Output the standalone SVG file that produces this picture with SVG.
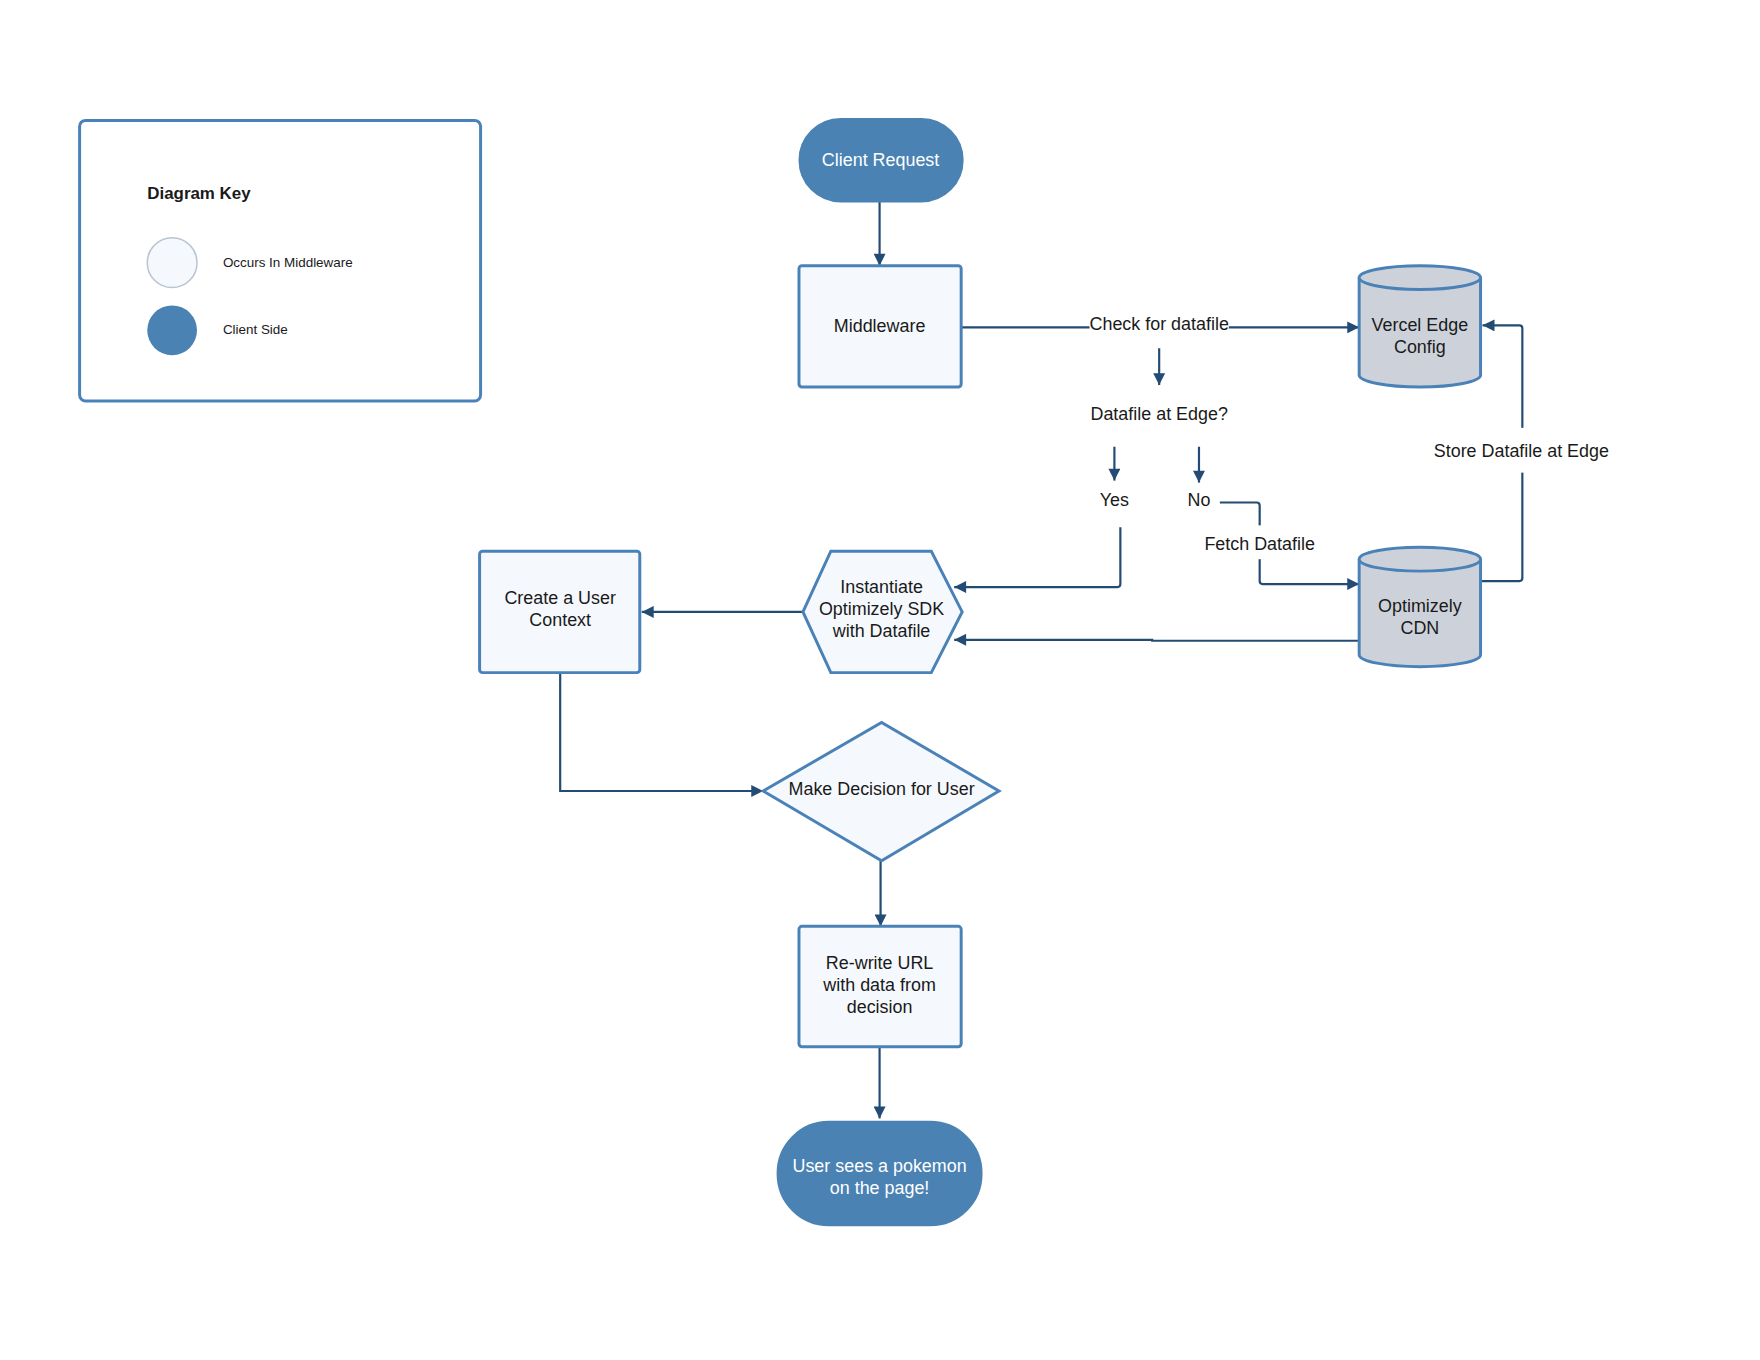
<svg xmlns="http://www.w3.org/2000/svg" width="1760" height="1360" viewBox="0 0 1760 1360">
<style>
text{font-family:"Liberation Sans",Arial,sans-serif;font-size:18px;fill:#1a1a1a;text-anchor:middle}
.n{fill:#f5f9fd;stroke:#4a82b8;stroke-width:3}
.d{fill:#4a82b4;stroke:#4a82b4;stroke-width:3}
.c{fill:#cdd2da;stroke:#4a82b8;stroke-width:3}
.w{fill:#ffffff}
.e{fill:none;stroke:#234b74;stroke-width:2.2}
.lb{fill:#fff}
</style>
<defs>
<marker id="b" viewBox="0 0 10 10" refX="10" refY="5" markerWidth="16" markerHeight="12" markerUnits="userSpaceOnUse" orient="auto"><path d="M0,0L10,5L0,10z" fill="#234b74"/></marker>
</defs>
<rect width="1760" height="1360" fill="#fff"/>
<g transform="scale(0.995)">
<g id="legend">
<rect x="80" y="121" width="403" height="282" rx="6" fill="#fff" stroke="#4a82b8" stroke-width="3"/>
<text x="148" y="200" style="text-anchor:start;font-weight:bold;font-size:17px">Diagram Key</text>
<circle cx="173" cy="264" r="25" fill="#f5f9fd" stroke="#b8c4d0" stroke-width="1.5"/>
<text x="224" y="268" style="text-anchor:start;font-size:13.5px">Occurs In Middleware</text>
<circle cx="173" cy="332" r="25" fill="#4a82b4"/>
<text x="224" y="336" style="text-anchor:start;font-size:13.5px">Client Side</text>
</g>
<g id="connectors">
<path class="e" marker-end="url(#b)" d="M884,202V267"/>
<path class="e" marker-end="url(#b)" d="M966,329H1366"/>
<path class="e" marker-end="url(#b)" d="M1165,350V387"/>
<path class="e" marker-end="url(#b)" d="M1120,449V483"/>
<path class="e" marker-end="url(#b)" d="M1205,449V485"/>
<path class="e" marker-end="url(#b)" d="M1126,530V587q0,3 -3,3H959"/>
<path class="e" marker-end="url(#b)" d="M1226,505H1263q3,0 3,3V584q0,3 3,3H1366"/>
<path class="e" marker-end="url(#b)" d="M1366,644H1158V643H959"/>
<path class="e" marker-end="url(#b)" d="M1488,584H1527q3,0 3,-3V330q0,-3 -3,-3H1490"/>
<path class="e" marker-end="url(#b)" d="M807,615H645"/>
<path class="e" marker-end="url(#b)" d="M563,676V795H767"/>
<path class="e" marker-end="url(#b)" d="M885,865V931"/>
<path class="e" marker-end="url(#b)" d="M884,1052V1124"/>
<rect class="lb" x="1095" y="312" width="140" height="22"/>
<text x="1165" y="332">Check for datafile</text>
<rect class="lb" x="1438" y="430" width="184" height="45"/>
<text x="1529" y="459">Store Datafile at Edge</text>
<rect class="lb" x="1206" y="528" width="120" height="34"/>
<text x="1266" y="553">Fetch Datafile</text>
</g>
<g id="datafile-q"><text x="1165" y="422">Datafile at Edge?</text></g>
<g id="yes"><text x="1120" y="509">Yes</text></g>
<g id="no"><text x="1205" y="509">No</text></g>
<g id="client-request">
<rect class="d" x="804" y="120" width="163" height="82" rx="41"/>
<text class="w" x="885" y="167">Client Request</text>
</g>
<g id="middleware">
<rect class="n" x="803" y="267" width="163" height="122" rx="3"/>
<text x="884" y="334">Middleware</text>
</g>
<g id="vercel">
<path class="c" d="M1366,279V377A61,12 0 0 0 1488,377V279"/>
<ellipse class="c" cx="1427" cy="279" rx="61" ry="12"/>
<text x="1427" y="333">Vercel Edge</text>
<text x="1427" y="355">Config</text>
</g>
<g id="cdn">
<path class="c" d="M1366,562V658A61,12 0 0 0 1488,658V562"/>
<ellipse class="c" cx="1427" cy="562" rx="61" ry="12"/>
<text x="1427" y="615">Optimizely</text>
<text x="1427" y="637">CDN</text>
</g>
<g id="sdk">
<polygon class="n" points="807,615 835,554 936,554 967,615 936,676 835,676"/>
<text x="886" y="596">Instantiate</text>
<text x="886" y="618">Optimizely SDK</text>
<text x="886" y="640">with Datafile</text>
</g>
<g id="user-context">
<rect class="n" x="482" y="554" width="161" height="122" rx="3"/>
<text x="563" y="607">Create a User</text>
<text x="563" y="629">Context</text>
</g>
<g id="decision">
<polygon class="n" points="767,795 886,726 1004,795 886,865"/>
<text x="886" y="799">Make Decision for User</text>
</g>
<g id="rewrite">
<rect class="n" x="803" y="931" width="163" height="121" rx="3"/>
<text x="884" y="974">Re-write URL</text>
<text x="884" y="996">with data from</text>
<text x="884" y="1018">decision</text>
</g>
<g id="user-sees">
<rect class="d" x="782" y="1128" width="204" height="103" rx="51"/>
<text class="w" x="884" y="1178">User sees a pokemon</text>
<text class="w" x="884" y="1200">on the page!</text>
</g>
</g>
</svg>
